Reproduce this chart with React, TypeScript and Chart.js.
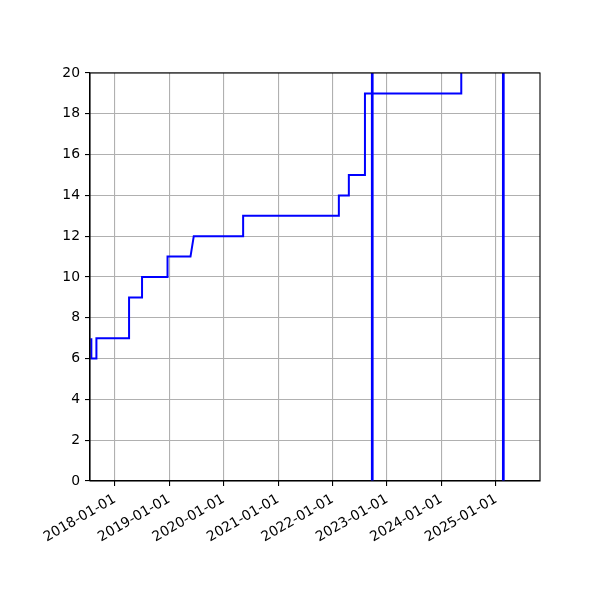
import { useEffect, useRef } from "react";
import { Chart, LineController, LineElement, PointElement, LinearScale } from "chart.js";

Chart.register(LineController, LineElement, PointElement, LinearScale);

// step series (pairs give the vertical risers)
const stepDates = [
  "2017-07-28", "2017-07-28", "2017-08-31", "2017-08-31", "2018-04-07", "2018-04-07",
  "2018-07-03", "2018-07-03", "2018-12-21", "2018-12-21", "2019-05-24", "2019-06-15",
  "2020-05-11", "2020-05-11", "2022-02-12", "2022-02-12", "2022-04-20", "2022-04-20",
  "2022-08-06", "2022-08-06", "2024-05-13", "2024-05-13",
];
const stepValues = [7, 6, 6, 7, 7, 9, 9, 10, 10, 11, 11, 12, 12, 13, 13, 14, 14, 15, 15, 19, 19, 23];

// vertical marker lines
const markerDates = ["2022-09-24", "2025-02-19"];

const tickYears = [2018, 2019, 2020, 2021, 2022, 2023, 2024, 2025];
const xMinDate = "2017-07-19";
const xMaxDate = "2025-10-23";
const yMin = 0;
const yMax = 20;

const ms = (d: string) => Date.parse(d + "T00:00:00Z");

const frame = {
  id: "frame",
  afterDatasetsDraw(chart: Chart) {
    const { ctx, chartArea: a } = chart;
    ctx.save();
    ctx.strokeStyle = "#000";
    ctx.lineWidth = 1.1;
    ctx.strokeRect(a.left, a.top, a.right - a.left, a.bottom - a.top);
    ctx.restore();
  },
};

export default function App() {
  const canvasRef = useRef<HTMLCanvasElement>(null);
  const chartRef = useRef<Chart | null>(null);

  useEffect(() => {
    document.body.style.margin = "0";
    if (!canvasRef.current) return;
    chartRef.current?.destroy();

    const font = { family: "'DejaVu Sans', sans-serif", size: 13.9 };

    chartRef.current = new Chart(canvasRef.current, {
      type: "line",
      data: {
        datasets: [
          {
            data: stepDates.map((d, i) => ({ x: ms(d), y: stepValues[i] })),
            borderColor: "#0000ff",
            borderWidth: 2,
            pointRadius: 0,
            tension: 0,
          },
          ...markerDates.map((d) => ({
            data: [{ x: ms(d), y: yMin }, { x: ms(d), y: yMax }],
            borderColor: "#0000ff",
            borderWidth: 2.7,
            pointRadius: 0,
          })),
        ],
      },
      options: {
        animation: false,
        responsive: false,
        events: [],
        layout: { padding: { left: 0, right: 60, top: 73, bottom: 0 } },
        plugins: { legend: { display: false }, tooltip: { enabled: false } },
        scales: {
          x: {
            type: "linear",
            min: ms(xMinDate),
            max: ms(xMaxDate),
            afterBuildTicks: (scale: any) => {
              scale.ticks = tickYears.map((y) => ({ value: Date.UTC(y, 0, 1) }));
            },
            afterFit: (scale: any) => { scale.height = 119; },
            ticks: {
              autoSkip: false,
              minRotation: 30,
              maxRotation: 30,
              padding: 5,
              color: "#000",
              font,
              callback: (v: any) => new Date(Number(v)).toISOString().slice(0, 10),
            },
            grid: { color: "#b0b0b0", lineWidth: 1.1, tickLength: 5, tickColor: "#000", tickWidth: 1.1 },
            border: { color: "#000", width: 1.1 },
          },
          y: {
            type: "linear",
            min: yMin,
            max: yMax,
            afterFit: (scale: any) => { scale.width = 90; },
            ticks: { stepSize: 2, padding: 5, color: "#000", font },
            grid: { color: "#b0b0b0", lineWidth: 1.1, tickLength: 5, tickColor: "#000", tickWidth: 1.1 },
            border: { color: "#000", width: 1.1 },
          },
        },
      },
      plugins: [frame],
    });

    return () => { chartRef.current?.destroy(); };
  }, []);

  return <div style={{ width: 600, height: 600 }}><canvas ref={canvasRef} width={600} height={600} /></div>;
}
